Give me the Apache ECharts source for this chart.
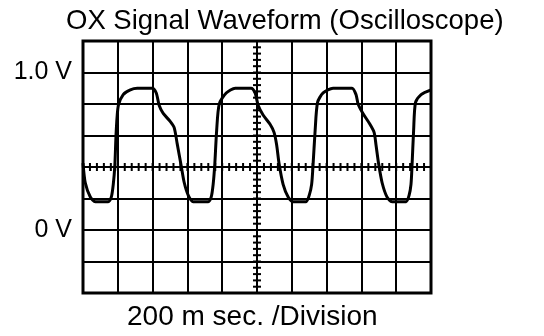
<!DOCTYPE html>
<html>
<head>
<meta charset="utf-8">
<script src="https://cdn.jsdelivr.net/npm/echarts@6/dist/echarts.min.js"></script>
<style>html,body{margin:0;padding:0;background:#fff}#c{width:544px;height:336px}</style>
</head>
<body>
<div id="c"></div>
<script>
// Time in ms (200 ms / division, 10 divisions)
var timeMs = [0,13,42,71,145,163,174,183,191,203,231,272,312,398,421,438,461,501,524,541,564,582,605,633,720,737,748,757,768,783,823,875,966,989,1007,1035,1076,1098,1113,1127,1150,1179,1208,1282,1300,1314,1322,1334,1348,1380,1437,1546,1569,1581,1609,1650,1673,1684,1699,1719,1747,1776,1857,1874,1885,1891,1900,1911,1943,2000];
// Voltage in V
var volts = [0.425,0.30,0.21,0.18,0.18,0.21,0.29,0.41,0.63,0.79,0.86,0.89,0.90,0.90,0.87,0.79,0.74,0.69,0.65,0.55,0.41,0.30,0.22,0.18,0.18,0.21,0.29,0.41,0.63,0.80,0.87,0.90,0.90,0.87,0.79,0.73,0.67,0.62,0.54,0.42,0.29,0.21,0.18,0.18,0.22,0.29,0.41,0.63,0.81,0.87,0.90,0.90,0.86,0.80,0.74,0.67,0.62,0.54,0.42,0.30,0.21,0.18,0.18,0.22,0.29,0.41,0.63,0.81,0.86,0.89];
var yTickLabels = {"1.0": "1.0 V", "0.0": "0 V"};
var titleText = "OX Signal Waveform (Oscilloscope)";
var xUnitText = "200 m sec. /Division";

var xMin = 0, xMax = 2000, xStep = 200;
var yMin = -0.4, yMax = 1.2, yStep = 0.2;
var xCenter = 1000, yCenter = 0.4;

var waveData = timeMs.map(function(t, i){ return [t, volts[i]]; });

// minor tick positions along crosshair (5 per division)
var tickData = [];
for (var i = 0; i <= 50; i++) tickData.push(['x', xMin + i * xStep / 5]);
for (var j = 0; j <= 40; j++) tickData.push(['y', +(yMin + j * yStep / 5).toFixed(4)]);

var FONT = 'Liberation Sans, Arial, sans-serif';
var chart = echarts.init(document.getElementById('c'), null, {renderer: 'canvas'});
chart.setOption({
  animation: false,
  backgroundColor: '#fff',
  title: [
    {text: titleText, left: 61, top: 2,
     textStyle: {fontFamily: FONT, fontSize: 27.5, fontWeight: 'normal', color: '#000'}},
    {text: xUnitText, left: 122, top: 298,
     textStyle: {fontFamily: FONT, fontSize: 28, fontWeight: 'normal', color: '#000'}}
  ],
  grid: {left: 83, top: 41, width: 348, height: 252, show: true, borderColor: '#000', borderWidth: 3, backgroundColor: 'transparent'},
  xAxis: {
    type: 'value', min: xMin, max: xMax, interval: xStep,
    axisLine: {show: false}, axisTick: {show: false}, axisLabel: {show: false},
    splitLine: {show: true, lineStyle: {color: '#000', width: 2}}
  },
  yAxis: {
    type: 'value', min: yMin, max: yMax, interval: yStep,
    axisLine: {show: false}, axisTick: {show: false},
    axisLabel: {
      show: true, margin: 11, color: '#000', fontSize: 25,
      fontFamily: FONT,
      formatter: function(v){ var k = (Math.round(v*10)/10).toFixed(1); return yTickLabels[k] || ''; }
    },
    splitLine: {show: true, lineStyle: {color: '#000', width: 2}}
  },
  series: [
    {
      type: 'custom', silent: true, data: tickData, z: 3,
      renderItem: function(params, api){
        var kind = tickData[params.dataIndex][0];
        var val = tickData[params.dataIndex][1];
        var p, len = 4;
        if (kind === 'x') {
          p = api.coord([val, yCenter]);
          return {type: 'line', shape: {x1: p[0], y1: p[1]-len, x2: p[0], y2: p[1]+len}, style: {stroke: '#000', lineWidth: 2}};
        } else {
          p = api.coord([xCenter, val]);
          return {type: 'line', shape: {x1: p[0]-len, y1: p[1], x2: p[0]+len, y2: p[1]}, style: {stroke: '#000', lineWidth: 2}};
        }
      }
    },
    {
      type: 'line', data: waveData, smooth: 0.25, showSymbol: false, z: 5,
      lineStyle: {color: '#000', width: 3}
    }
  ]
});
</script>
</body>
</html>
